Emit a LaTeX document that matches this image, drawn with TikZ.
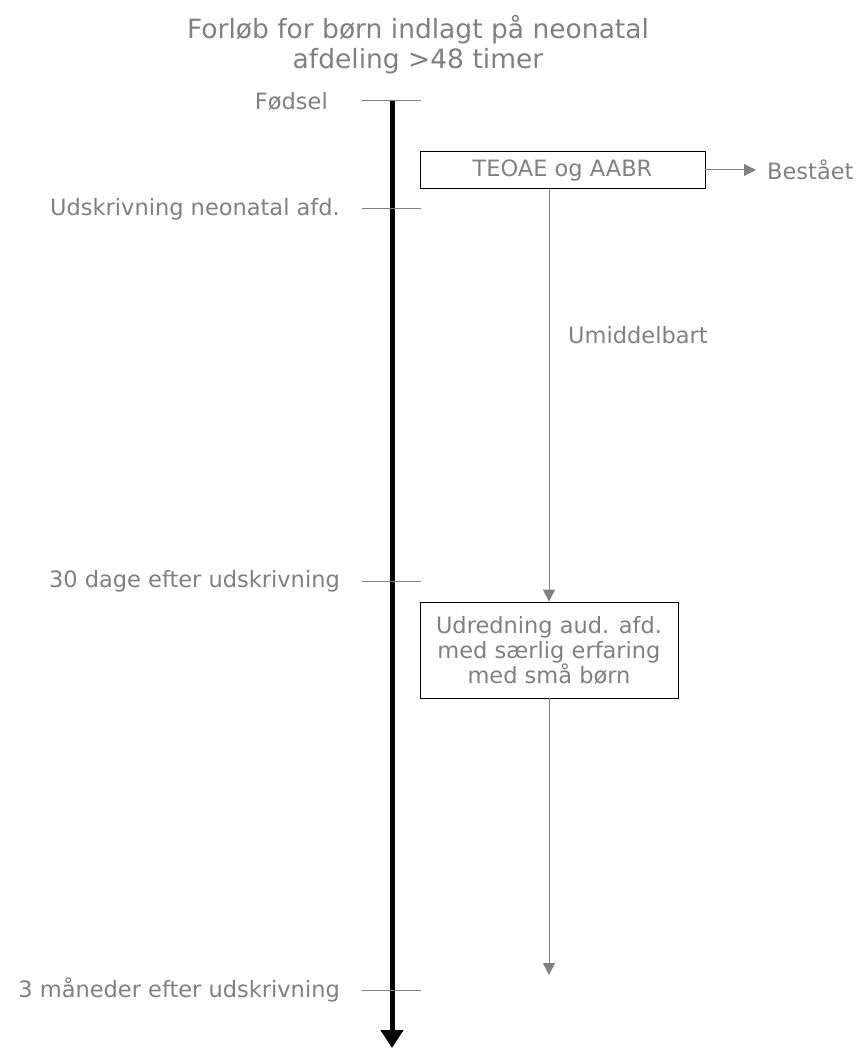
\documentclass[tikz,border=0pt]{standalone}
\usepackage{fontspec}
\setmainfont{DejaVu Sans}
\usetikzlibrary{positioning,arrows.meta}
\definecolor{txtgray}{HTML}{808080}
\tikzset{
  lbl/.style={text=txtgray, font=\fontsize{22.5}{25}\selectfont, inner sep=0pt},
  tickline/.style={draw=txtgray, line width=1pt},
  stepbox/.style={draw=black, line width=0.9pt, text=txtgray, font=\fontsize{22.5}{25}\selectfont, align=center, inner sep=0pt},
  flow/.style={draw=txtgray, line width=1pt, -{Triangle[length=12pt,width=12pt]}},
  timeline/.style={draw=black, line width=5pt, -{Triangle[length=18pt,width=22pt]}}
}
\begin{document}
\begin{tikzpicture}[x=1pt,y=-1pt]
\useasboundingbox (0,0) rectangle (856,1048);
% title
\node[lbl, font=\fontsize{26.5}{30}\selectfont, align=center] (title) at (418,45)
  {Forløb for børn indlagt på neonatal\\afdeling >48 timer};
% time axis
\coordinate (ax0) at (392,100);
\coordinate (ax1) at (392,1048);
\draw[timeline] (ax0) -- (ax1);
\foreach \i/\y/\x/\txt in {1/101/328/Fødsel, 2/209/340/Udskrivning neonatal afd., 3/581/340/30 dage efter udskrivning, 4/990/340/3 måneder efter udskrivning}{
  \coordinate (ta\i) at (362,\y);
  \coordinate (tb\i) at (421,\y);
  \draw[tickline] (ta\i) -- (tb\i);
  \node[lbl, anchor=east] (t\i) at (\x,\y) {\txt};
}
% screening
\node[stepbox, minimum width=285pt, minimum height=37pt] (screen) at (562.5,170) {TEOAE og AABR};
\node[lbl, anchor=west] (pass) at (767,170) {Bestået};
\draw[flow, shorten >=11pt] (screen.east) -- (pass.west);
\node[stepbox, minimum width=258pt, minimum height=96pt] (refer) at (549,650)
  {Udredning aud. afd.\\med særlig erfaring\\med små børn};
\draw[flow] (screen.south -| refer.north) -- (refer.north);
\node[lbl, anchor=west] (now) at (568,335) {Umiddelbart};
\coordinate (end) at (549,975);
\draw[flow] (refer.south) -- (end);
\end{tikzpicture}
\end{document}
